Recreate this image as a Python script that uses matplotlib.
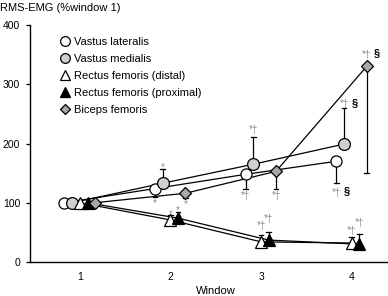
import matplotlib
matplotlib.use("Agg")
import matplotlib.pyplot as plt
from matplotlib.lines import Line2D

plt.rcParams['font.family'] = ['Liberation Sans', 'DejaVu Sans']

windows = [1, 2, 3, 4]
series = ["Vastus lateralis", "Vastus medialis", "Rectus femoris (distal)",
          "Rectus femoris (proximal)", "Biceps femoris"]
vl = [100, 124, 148, 170]
vm = [100, 133, 165, 199]
rfd = [100, 71, 34, 32]
rfp = [100, 74, 37, 30]
bf = [100, 116, 153, 330]
values = [vl, vm, rfd, rfp, bf]

# error bar ends (one-sided), None = not shown
vl_err_low = [None, 110, 123, 134]
vm_err_high = [None, 157, 211, 260]
rfd_err_high = [None, 80, 45, 43]
rfp_err_high = [None, 85, 50, 47]
bf_err_low = [None, 108, 123, 150]
err_ends = [vl_err_low, vm_err_high, rfd_err_high, rfp_err_high, bf_err_low]

# significance annotations (grey marks, black section sign) and their levels
vl_sig = ["", "*", "*†", "*† §"]
vm_sig = ["", "*", "*†", "*† §"]
rfd_sig = ["", "*", "*†", "*†"]
rfp_sig = ["", "*", "*†", "*†"]
bf_sig = ["", "*", "*†", "*† §"]
sigs = [vl_sig, vm_sig, rfd_sig, rfp_sig, bf_sig]
vl_sig_y = [None, 103, 115, 120]
vm_sig_y = [None, 164, 226, 270]
rfd_sig_y = [None, 85, 64, 56]
rfp_sig_y = [None, 91, 76, 69]
bf_sig_y = [None, 102, 115, 354]
sig_ys = [vl_sig_y, vm_sig_y, rfd_sig_y, rfp_sig_y, bf_sig_y]

offsets = [-0.17, -0.085, 0.0, 0.085, 0.165]
markers = ['o', 'o', '^', '^', 'D']
faces = ['white', '#d0d0d0', 'white', 'black', '#a8a8a8']
sizes = [8, 8.5, 8, 8, 6.5]

W, H = 388, 296
fig = plt.figure(figsize=(W / 100, H / 100), dpi=100)
ax = fig.add_axes([30 / W, 1 - 262 / H, (387 - 30) / W, (262 - 25) / H])

for i in range(5):
    xs = [w + offsets[i] for w in windows]
    ys = values[i]
    ax.plot(xs, ys, color='black', lw=0.9, zorder=2)
    for j in range(4):
        e = err_ends[i][j]
        if e is not None:
            ax.plot([xs[j], xs[j]], [ys[j], e], color='black', lw=0.9, zorder=1)
            ax.plot([xs[j] - 0.025, xs[j] + 0.025], [e, e], color='black', lw=0.9, zorder=1)
    ax.plot(xs, ys, linestyle='none', marker=markers[i], markersize=sizes[i],
            markerfacecolor=faces[i], markeredgecolor='black', markeredgewidth=0.9, zorder=3)
    for j in range(4):
        s = sigs[i][j]
        if not s:
            continue
        ypos = sig_ys[i][j]
        txt = s.replace(" §", "")
        ax.text(xs[j], ypos - 4, txt, color='#8a8a8a', fontsize=7, ha='center',
                va='center', zorder=4)
        if "§" in s:
            ax.text(xs[j] + 0.08, ypos - 1, "§", color='black', fontsize=8, ha='left',
                    va='center', fontweight='bold', zorder=4)

ax.set_xlim(0.45, 4.39)
ax.set_ylim(0, 400)
ax.set_xticks(windows)
ax.set_yticks([0, 100, 200, 300, 400])
ax.tick_params(axis='x', length=0, labelsize=7.5, pad=7)
ax.tick_params(axis='y', length=3, width=0.9, labelsize=7.5, pad=4)
for sp in ['top', 'right']:
    ax.spines[sp].set_visible(False)
for sp in ['left', 'bottom']:
    ax.spines[sp].set_linewidth(1.0)

fig.text(0, 1 - 8 / H, "RMS-EMG (%window 1)", fontsize=8, ha='left', va='center')
fig.text(216 / W, 1 - 291 / H, "Window", fontsize=8, ha='center', va='center')

handles = [Line2D([], [], linestyle='none', marker=markers[i], markersize=7 if i < 4 else 5.5,
                  markerfacecolor=faces[i], markeredgecolor='black', markeredgewidth=0.9)
           for i in range(5)]
ax.legend(handles, series, loc='upper left', bbox_to_anchor=(59 / W, 1 - 37 / H),
          bbox_transform=fig.transFigure, frameon=False, fontsize=8,
          handlelength=1.0, handletextpad=0.35, labelspacing=0.62, borderpad=0,
          borderaxespad=0)

fig.savefig("out.png", dpi=100)
